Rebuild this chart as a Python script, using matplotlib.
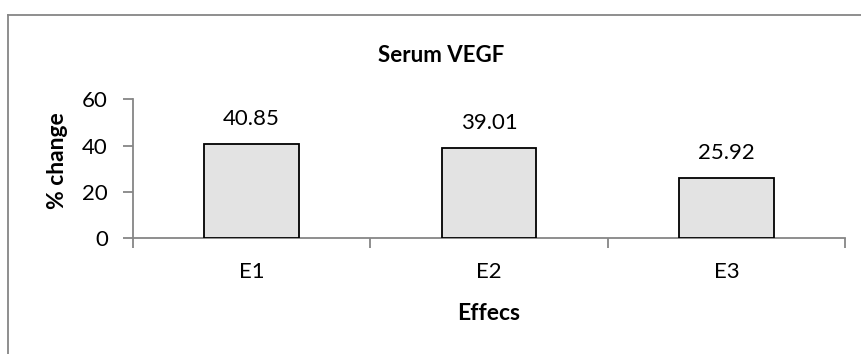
import matplotlib
matplotlib.use("Agg")
import matplotlib.pyplot as plt
from matplotlib.lines import Line2D
from matplotlib.ticker import FixedLocator, NullFormatter

categories = ["E1", "E2", "E3"]
values = [40.85, 39.01, 25.92]
value_labels = ["40.85", "39.01", "25.92"]
yticks = [0, 20, 40, 60]

plt.rcParams['font.family'] = ['Lato', 'DejaVu Sans']

W, H = 862, 354
fig = plt.figure(figsize=(W / 100, H / 100), dpi=100)
ax = fig.add_axes([133 / W, 1 - 238 / H, (845 - 133) / W, (238 - 99.3) / H])

gray = "#868686"
x = list(range(len(categories)))
ax.bar(x, values, width=0.4, color="#e3e3e3", edgecolor="black", linewidth=1.3, zorder=3)

for xi, v, lab in zip(x, values, value_labels):
    ax.annotate(lab, (xi, v), xytext=(0, 25), textcoords="offset pixels",
                ha="center", va="center", fontsize=16)

ax.set_xlim(-0.5, len(categories) - 0.5)
ax.set_ylim(0, 60)
ax.set_yticks(yticks)
ax.set_yticklabels([str(t) for t in yticks], fontsize=16)

# category boundaries get the tick marks, names sit in between
ax.xaxis.set_major_locator(FixedLocator([i - 0.5 for i in range(len(categories) + 1)]))
ax.xaxis.set_major_formatter(NullFormatter())
ax.xaxis.set_minor_locator(FixedLocator(x))
ax.set_xticklabels(categories, minor=True, fontsize=16)
ax.tick_params(axis="x", which="major", direction="out", length=7, width=1.3, color=gray)
ax.tick_params(axis="x", which="minor", length=0, pad=17)
ax.tick_params(axis="y", direction="out", length=7, width=1.3, color=gray, pad=11)

for s in ["top", "right"]:
    ax.spines[s].set_visible(False)
for s in ["left", "bottom"]:
    ax.spines[s].set_color(gray)
    ax.spines[s].set_linewidth(1.3)

fig.text(441 / W, 1 - 55 / H, "Serum VEGF", ha="center", va="center",
         fontsize=16, fontweight="bold")
fig.text(58 / W, 1 - 161 / H, "% change", ha="center", va="center",
         rotation=90, fontsize=16.5, fontweight="bold")
fig.text(489 / W, 1 - 313 / H, "Effecs", ha="center", va="center",
         fontsize=16.5, fontweight="bold")

# chart area border (cropped on the right and bottom)
fig.add_artist(Line2D([8 / W, 1.0], [1 - 14.5 / H, 1 - 14.5 / H], color=gray, lw=1.3))
fig.add_artist(Line2D([8 / W, 8 / W], [1 - 14.5 / H, 0.0], color=gray, lw=1.3))

fig.savefig("out.png", dpi=100)
